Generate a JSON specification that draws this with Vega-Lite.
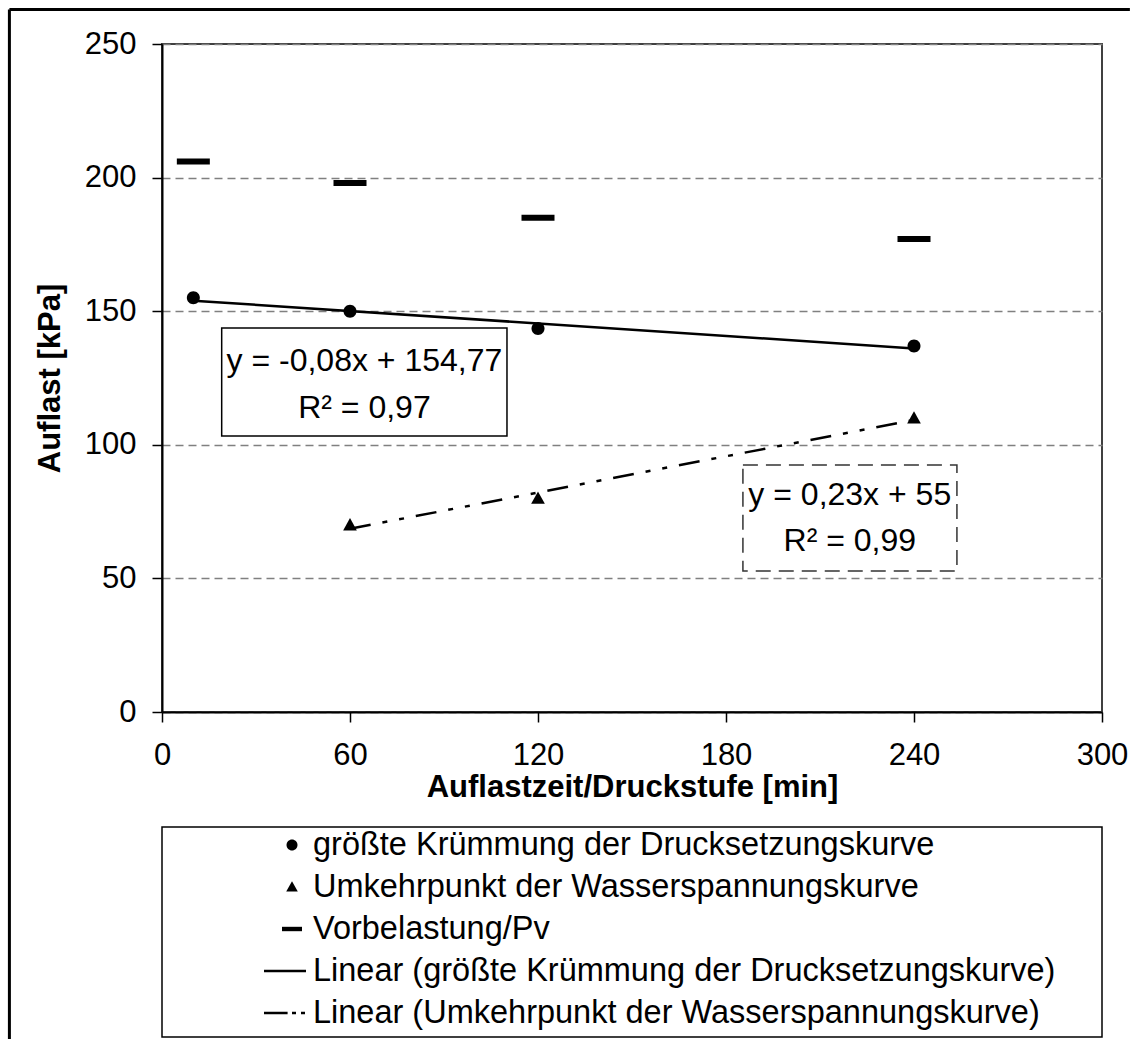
{
  "$schema": "https://vega.github.io/schema/vega-lite/v6.json",
  "width": 940,
  "height": 668,
  "autosize": {"type": "none"},
  "padding": {"left": 162, "top": 44, "right": 37, "bottom": 327},
  "background": "white",
  "config": {
    "font": "Liberation Sans",
    "view": {"stroke": "#404040", "strokeWidth": 2},
    "axis": {
      "labelFont": "Liberation Sans",
      "titleFont": "Liberation Sans",
      "labelColor": "black",
      "titleColor": "black",
      "labelFontSize": 31,
      "titleFontSize": 31,
      "titleFontWeight": "bold",
      "tickColor": "black",
      "tickSize": 10,
      "tickWidth": 1.5,
      "domainColor": "black",
      "domainWidth": 2,
      "labelFlush": false,
      "labelOverlap": false
    }
  },
  "data": {
    "values": [
      {"time": 10, "load": 155, "series": "größte Krümmung der Drucksetzungskurve"},
      {"time": 60, "load": 150, "series": "größte Krümmung der Drucksetzungskurve"},
      {"time": 120, "load": 143.5, "series": "größte Krümmung der Drucksetzungskurve"},
      {"time": 240, "load": 137, "series": "größte Krümmung der Drucksetzungskurve"},
      {"time": 60, "load": 70, "series": "Umkehrpunkt der Wasserspannungskurve"},
      {"time": 120, "load": 80, "series": "Umkehrpunkt der Wasserspannungskurve"},
      {"time": 240, "load": 110, "series": "Umkehrpunkt der Wasserspannungskurve"},
      {"time": 10, "load": 206, "series": "Vorbelastung/Pv"},
      {"time": 60, "load": 198, "series": "Vorbelastung/Pv"},
      {"time": 120, "load": 185, "series": "Vorbelastung/Pv"},
      {"time": 240, "load": 177, "series": "Vorbelastung/Pv"}
    ]
  },
  "layer": [
    {
      "data": {"values": [{}]},
      "mark": {"type": "rule", "color": "black", "strokeWidth": 3},
      "encoding": {
        "x": {"datum": -48.7, "type": "quantitative"},
        "y": {"datum": 262.9, "type": "quantitative"},
        "y2": {"datum": -126}
      }
    },
    {
      "data": {"values": [{}]},
      "mark": {"type": "rule", "color": "black", "strokeWidth": 3},
      "encoding": {
        "x": {"datum": -48.7, "type": "quantitative"},
        "x2": {"datum": 308.9},
        "y": {"datum": 262.9, "type": "quantitative"}
      }
    },
    {
      "data": {"values": [{}]},
      "mark": {"type": "rect", "fill": "white", "stroke": "black", "strokeWidth": 1.5},
      "encoding": {
        "x": {"datum": 0, "type": "quantitative"},
        "x2": {"datum": 300},
        "y": {"datum": -43, "type": "quantitative"},
        "y2": {"datum": -121.6}
      }
    },
    {
      "mark": {"type": "point", "opacity": 0},
      "encoding": {
        "x": {
          "field": "time",
          "type": "quantitative",
          "scale": {"domain": [0, 300], "nice": false, "zero": false},
          "axis": {
            "values": [0, 60, 120, 180, 240, 300],
            "title": "Auflastzeit/Druckstufe [min]",
            "grid": false,
            "labelPadding": 18,
            "titlePadding": 2
          }
        },
        "y": {
          "field": "load",
          "type": "quantitative",
          "scale": {"domain": [0, 250], "nice": false, "zero": false},
          "axis": {
            "values": [0, 50, 100, 150, 200, 250],
            "title": "Auflast [kPa]",
            "grid": true,
            "gridColor": "#808080",
            "gridDash": [8, 5],
            "gridWidth": 1.5,
            "labelPadding": 16,
            "titlePadding": 18
          }
        }
      }
    },
    {
      "data": {"values": [{}]},
      "mark": {"type": "rect", "fill": "white", "stroke": "black", "strokeWidth": 1.5},
      "encoding": {
        "x": {"datum": 19.05, "type": "quantitative"},
        "x2": {"datum": 110.1},
        "y": {"datum": 143.7, "type": "quantitative"},
        "y2": {"datum": 103.3}
      }
    },
    {
      "data": {"values": [{}]},
      "mark": {"type": "rect", "fill": "white", "stroke": "#333333", "strokeWidth": 1.5, "strokeDash": [15, 8]},
      "encoding": {
        "x": {"datum": 185.4, "type": "quantitative"},
        "x2": {"datum": 253.7},
        "y": {"datum": 92.4, "type": "quantitative"},
        "y2": {"datum": 52.8}
      }
    },
    {
      "transform": [
        {"filter": "datum.series === 'größte Krümmung der Drucksetzungskurve'"},
        {"regression": "load", "on": "time"}
      ],
      "mark": {"type": "line", "color": "black", "strokeWidth": 2.5},
      "encoding": {
        "x": {"field": "time", "type": "quantitative"},
        "y": {"field": "load", "type": "quantitative"}
      }
    },
    {
      "transform": [
        {"filter": "datum.series === 'Umkehrpunkt der Wasserspannungskurve'"},
        {"regression": "load", "on": "time"}
      ],
      "mark": {"type": "line", "color": "black", "strokeWidth": 2.5, "strokeDash": [21, 12, 5, 12, 5, 12]},
      "encoding": {
        "x": {"field": "time", "type": "quantitative"},
        "y": {"field": "load", "type": "quantitative"}
      }
    },
    {
      "transform": [{"filter": "datum.series !== 'Vorbelastung/Pv'"}],
      "mark": {"type": "point", "filled": true, "color": "black", "opacity": 1, "size": 2235},
      "encoding": {
        "x": {"field": "time", "type": "quantitative"},
        "y": {"field": "load", "type": "quantitative"},
        "shape": {
          "field": "series",
          "type": "nominal",
          "scale": {
            "domain": [
              "größte Krümmung der Drucksetzungskurve",
              "Umkehrpunkt der Wasserspannungskurve",
              "Vorbelastung/Pv",
              "Linear (größte Krümmung der Drucksetzungskurve)",
              "Linear (Umkehrpunkt der Wasserspannungskurve)"
            ],
            "range": [
              "M0.275,0A0.275,0.275,0,1,1,-0.275,0A0.275,0.275,0,1,1,0.275,0Z",
              "M0,-0.29L0.29,0.23L-0.29,0.23Z",
              "M-0.5,-0.11H0.5V0.11H-0.5Z",
              "M-1.4,-0.0625H0.7V0.0625H-1.4Z",
              "M-1.4,-0.0625H-0.22V0.0625H-1.4Z M0,-0.0625H0.2V0.0625H0Z M0.45,-0.0625H0.65V0.0625H0.45Z"
            ]
          },
          "legend": {
            "orient": "none",
            "legendX": 110,
            "legendY": 781,
            "title": null,
            "padding": 0,
            "labelFont": "Liberation Sans",
            "labelFontSize": 32.5,
            "labelColor": "black",
            "labelLimit": 1200,
            "labelOffset": 1,
            "symbolSize": 1600,
            "symbolOffset": 0,
            "symbolFillColor": "black",
            "symbolStrokeWidth": 0,
            "symbolOpacity": 1,
            "rowPadding": 5
          }
        }
      }
    },
    {
      "transform": [{"filter": "datum.series === 'Vorbelastung/Pv'"}],
      "mark": {"type": "tick", "orient": "horizontal", "size": 33, "thickness": 6, "color": "black", "opacity": 1},
      "encoding": {
        "x": {"field": "time", "type": "quantitative"},
        "y": {"field": "load", "type": "quantitative"}
      }
    },
    {
      "data": {"values": [{}]},
      "mark": {
        "type": "text",
        "text": ["y = -0,08x + 154,77", "R² = 0,97"],
        "font": "Liberation Sans",
        "fontSize": 32,
        "lineHeight": 47,
        "align": "center",
        "baseline": "alphabetic",
        "color": "black"
      },
      "encoding": {
        "x": {"datum": 64.6, "type": "quantitative"},
        "y": {"datum": 127.6, "type": "quantitative"}
      }
    },
    {
      "data": {"values": [{}]},
      "mark": {
        "type": "text",
        "text": ["y = 0,23x + 55", "R² = 0,99"],
        "font": "Liberation Sans",
        "fontSize": 32,
        "lineHeight": 46,
        "align": "center",
        "baseline": "alphabetic",
        "color": "black"
      },
      "encoding": {
        "x": {"datum": 219.5, "type": "quantitative"},
        "y": {"datum": 77.5, "type": "quantitative"}
      }
    }
  ]
}
